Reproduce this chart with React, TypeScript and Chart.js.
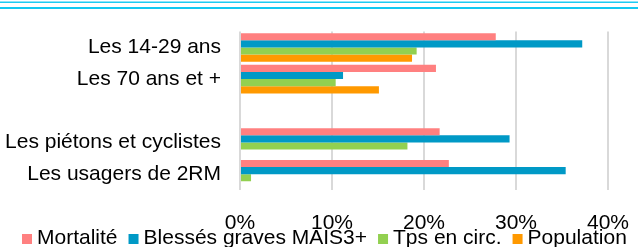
import React, { useEffect, useRef } from "react";
import { Chart, registerables } from "chart.js";

Chart.register(...registerables);

const categories = ["Les 14-29 ans", "Les 70 ans et +", "", "Les piétons et cyclistes", "Les usagers de 2RM"];
const seriesNames = ["Mortalité", "Blessés graves MAIS3+", "Tps en circ.", "Population"];
const mortalite = [27.8, 21.3, null, 21.7, 22.7];
const blesses = [37.2, 11.2, null, 29.3, 35.4];
const tpsCirc = [19.2, 10.4, null, 18.2, 1.2];
const population = [18.7, 15.1, null, null, null];
const colors = ["#FF8080", "#0099C6", "#92D050", "#FF9900"];
const xTicks = [0, 10, 20, 30, 40];

const FONT = "'Liberation Sans', Arial, sans-serif";

export default function App() {
  const ref = useRef<HTMLCanvasElement | null>(null);

  useEffect(() => {
    if (!ref.current) return;
    const values = [mortalite, blesses, tpsCirc, population];
    const legendPlugin = {
      id: "customLegend",
      afterDraw(chart: any) {
        const ctx = chart.ctx;
        ctx.save();
        ctx.font = `21px ${FONT}`;
        ctx.textBaseline = "alphabetic";
        ctx.textAlign = "left";
        let x = 22;
        const baseline = 244;
        seriesNames.forEach((name, i) => {
          ctx.fillStyle = colors[i];
          ctx.fillRect(x, baseline - 10, 10, 10);
          x += 10 + 5;
          ctx.fillStyle = "#000";
          ctx.fillText(name, x, baseline);
          x += ctx.measureText(name).width + 11;
        });
        ctx.restore();
      },
    };
    const chart = new Chart(ref.current, {
      type: "bar",
      data: {
        labels: categories,
        datasets: seriesNames.map((name, i) => ({
          label: name,
          data: values[i] as any,
          backgroundColor: colors[i],
          borderWidth: 0,
          categoryPercentage: 0.9,
          barPercentage: 1.0,
        })),
      },
      plugins: [legendPlugin],
      options: {
        indexAxis: "y",
        animation: false,
        responsive: false,
        maintainAspectRatio: false,
        layout: { padding: { top: 30, right: 30, left: 0, bottom: 0 } },
        plugins: {
          legend: { display: false },
          tooltip: { enabled: false },
        },
        scales: {
          x: {
            min: 0,
            max: 40,
            afterBuildTicks(axis: any) {
              axis.ticks = xTicks.map((v) => ({ value: v }));
            },
            afterFit(axis: any) {
              axis.height = 57;
              axis.paddingLeft = 0;
              axis.paddingRight = 0;
            },
            ticks: {
              callback: (v: any) => `${v}%`,
              color: "#000",
              font: { family: FONT, size: 21 },
              padding: 21,
              maxRotation: 0,
            },
            grid: { color: "#D9D9D9", lineWidth: 2, drawTicks: false },
            border: { display: false },
          },
          y: {
            afterFit(axis: any) {
              axis.width = 240;
            },
            ticks: {
              color: "#000",
              font: { family: FONT, size: 21 },
              padding: 19,
              autoSkip: false,
            },
            grid: { display: false, drawTicks: false },
            border: { display: false },
          },
        },
      },
    });
    return () => chart.destroy();
  }, []);

  return (
    <div style={{ position: "fixed", left: 0, top: 0, width: 638, height: 247, background: "#fff" }}>
      <div style={{ position: "absolute", left: 0, top: 1, width: 638, height: 1, background: "#8FE3F8" }} />
      <div style={{ position: "absolute", left: 0, top: 2, width: 638, height: 1, background: "#1CCBF2" }} />
      <div style={{ position: "absolute", left: 0, top: 7, width: 638, height: 2, background: "#12C9F2" }} />
      <canvas ref={ref} width={638} height={247} style={{ position: "absolute", left: 0, top: 0, width: 638, height: 247 }} />
    </div>
  );
}
